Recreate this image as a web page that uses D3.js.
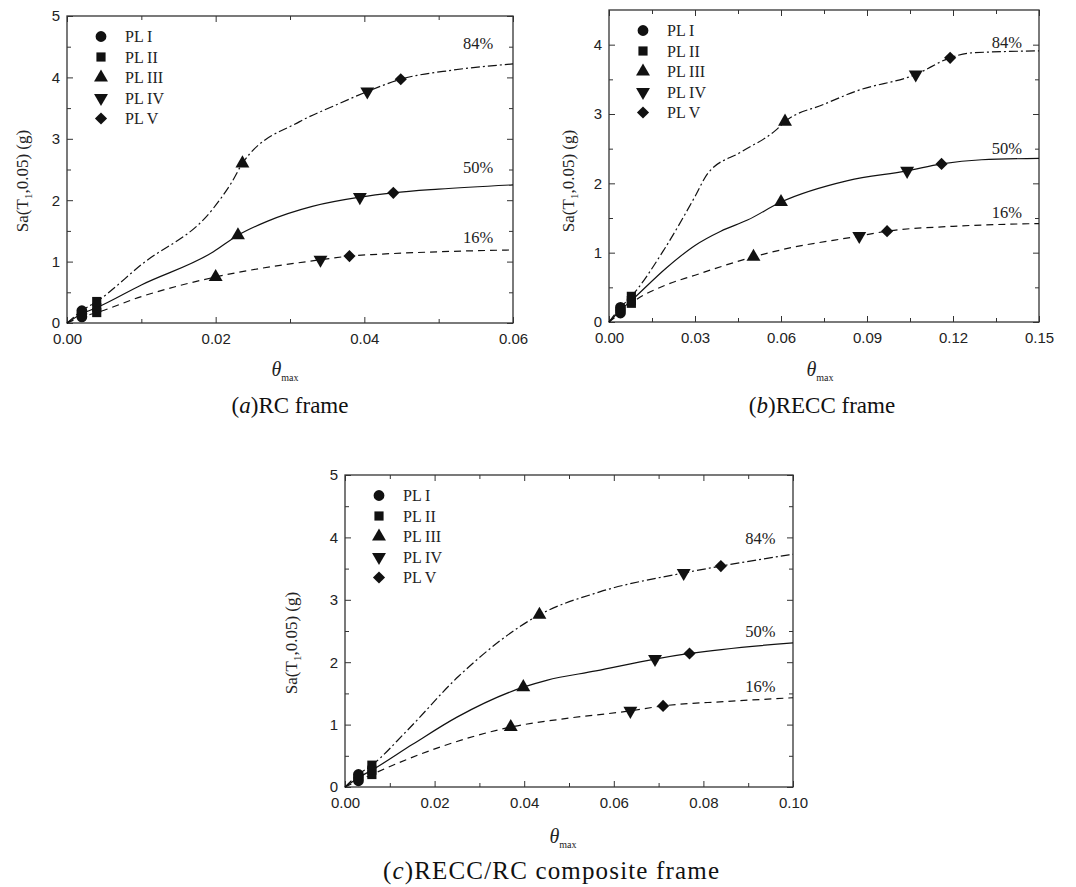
<!DOCTYPE html>
<html><head><meta charset="utf-8">
<script src="https://cdn.jsdelivr.net/npm/d3@7"></script>
<style>body{margin:0;background:#fff}</style>
</head><body><svg id="chart" width="1076" height="887"></svg>
<script>
// ---------- data ----------
const levels = ["PL I","PL II","PL III","PL IV","PL V"];
const pctNames = ["16%","50%","84%"];
const yTickLabels = ["0","1","2","3","4","5"];

// (a) RC frame
const rcXTicks = [0,0.02,0.04,0.06];
const rcXTickLabels = ["0.00","0.02","0.04","0.06"];
const rcPL16 = [[0.002,0.10],[0.004,0.17],[0.020,0.75],[0.0341,1.03],[0.038,1.09]];
const rcPL50 = [[0.002,0.15],[0.004,0.25],[0.023,1.43],[0.0394,2.05],[0.0439,2.12]];
const rcPL84 = [[0.002,0.20],[0.004,0.35],[0.0236,2.60],[0.0404,3.77],[0.0449,3.97]];
const rcCurve16 = [[0,0],[0.002,0.10],[0.004,0.17],[0.010,0.43],[0.020,0.75],[0.0341,1.03],[0.038,1.09],[0.042,1.12],[0.050,1.16],[0.060,1.19]];
const rcCurve50 = [[0,0],[0.002,0.15],[0.004,0.25],[0.010,0.62],[0.0197,1.16],[0.023,1.43],[0.027,1.66],[0.033,1.90],[0.0394,2.05],[0.0439,2.12],[0.050,2.18],[0.060,2.25]];
const rcCurve84 = [[0,0],[0.002,0.20],[0.004,0.35],[0.010,0.95],[0.0197,1.87],[0.0222,2.30],[0.0236,2.60],[0.0313,3.28],[0.0358,3.53],[0.0404,3.77],[0.0449,3.97],[0.052,4.12],[0.060,4.22]];

// (b) RECC frame
const reXTicks = [0,0.03,0.06,0.09,0.12,0.15];
const reXTickLabels = ["0.00","0.03","0.06","0.09","0.12","0.15"];
const rePL16 = [[0.004,0.13],[0.0078,0.27],[0.0504,0.94],[0.0873,1.24],[0.097,1.31]];
const rePL50 = [[0.004,0.17],[0.0078,0.31],[0.060,1.73],[0.104,2.18],[0.116,2.28]];
const rePL84 = [[0.004,0.21],[0.0078,0.37],[0.0614,2.89],[0.107,3.57],[0.119,3.81]];
const reCurve16 = [[0,0],[0.004,0.13],[0.0078,0.27],[0.019,0.52],[0.030,0.675],[0.0504,0.94],[0.060,1.04],[0.0873,1.24],[0.097,1.31],[0.120,1.38],[0.150,1.42]];
const reCurve50 = [[0,0],[0.004,0.17],[0.0078,0.31],[0.020,0.78],[0.030,1.105],[0.039,1.31],[0.0483,1.47],[0.060,1.73],[0.0833,2.04],[0.104,2.18],[0.116,2.28],[0.130,2.34],[0.150,2.36]];
const reCurve84 = [[0,0],[0.004,0.21],[0.0078,0.37],[0.0193,1.05],[0.030,1.81],[0.0344,2.14],[0.046,2.45],[0.058,2.76],[0.0614,2.89],[0.075,3.14],[0.0862,3.33],[0.107,3.57],[0.119,3.81],[0.126,3.88],[0.150,3.91]];

// (c) RECC/RC composite frame
const coXTicks = [0,0.02,0.04,0.06,0.08,0.10];
const coXTickLabels = ["0.00","0.02","0.04","0.06","0.08","0.10"];
const coPL16 = [[0.003,0.10],[0.006,0.20],[0.037,0.96],[0.0637,1.22],[0.071,1.30]];
const coPL50 = [[0.003,0.15],[0.006,0.27],[0.0398,1.60],[0.0692,2.05],[0.0769,2.14]];
const coPL84 = [[0.003,0.20],[0.006,0.35],[0.0434,2.76],[0.0756,3.43],[0.0839,3.54]];
const coCurve16 = [[0,0],[0.003,0.10],[0.006,0.20],[0.0212,0.64],[0.037,0.96],[0.0495,1.10],[0.0637,1.22],[0.071,1.30],[0.085,1.37],[0.100,1.43]];
const coCurve50 = [[0,0],[0.003,0.15],[0.006,0.27],[0.0150,0.68],[0.025,1.12],[0.0398,1.60],[0.045,1.71],[0.0560,1.86],[0.0692,2.05],[0.0769,2.14],[0.100,2.31]];
const coCurve84 = [[0,0],[0.003,0.20],[0.006,0.35],[0.0138,0.90],[0.0253,1.77],[0.0434,2.76],[0.057,3.13],[0.0756,3.43],[0.0839,3.54],[0.100,3.73]];

// ---------- layout ----------
const svg = d3.select("#chart");
const SERIF = "'Liberation Serif','Times New Roman',serif";
const SANS = "'Liberation Sans',Arial,sans-serif";
const dashes = ["7,5", null, "9,3,2,3"]; // 16%, 50%, 84%

const panels = [
  {box:{x0:67,x1:513,y0:16,y1:323}, xMax:0.06, yMax:5, xTicks:rcXTicks, xLabels:rcXTickLabels, xMinor:0.01,
   pls:[rcPL16,rcPL50,rcPL84], curves:[rcCurve16,rcCurve50,rcCurve84],
   pctPos:[[0.0553,1.40],[0.0553,2.54],[0.0553,4.55]],
   ylab:{x:22,y:181}, xlab:{x:285,y:370}, cap:{x:290,y:405,letter:"a",rest:")RC frame",size:23,w:null}},
  {box:{x0:609,x1:1039,y0:10,y1:322}, xMax:0.15, yMax:4.5, xTicks:reXTicks, xLabels:reXTickLabels, xMinor:0.015,
   pls:[rePL16,rePL50,rePL84], curves:[reCurve16,reCurve50,reCurve84],
   pctPos:[[0.1388,1.59],[0.1388,2.50],[0.1388,4.04]],
   ylab:{x:568,y:181}, xlab:{x:820,y:370}, cap:{x:822,y:405,letter:"b",rest:")RECC frame",size:23,w:null}},
  {box:{x0:345,x1:793,y0:475,y1:787}, xMax:0.10, yMax:5, xTicks:coXTicks, xLabels:coXTickLabels, xMinor:0.01,
   pls:[coPL16,coPL50,coPL84], curves:[coCurve16,coCurve50,coCurve84],
   pctPos:[[0.0927,1.62],[0.0927,2.50],[0.0927,3.98]],
   ylab:{x:291,y:643}, xlab:{x:563,y:837}, cap:{x:551,y:870,letter:"c",rest:")RECC/RC composite frame",size:25,w:336}}
];

function symbolFor(i){
  const g = [d3.symbolCircle, d3.symbolSquare, d3.symbolTriangle, d3.symbolTriangle, d3.symbolSquare][i];
  const s = [92, 84, 84, 84, 74][i];
  return d3.symbol().type(g).size(s)();
}
const rot = [0,0,0,180,45];

panels.forEach(p => {
  const b = p.box;
  const x = d3.scaleLinear().domain([0,p.xMax]).range([b.x0,b.x1]);
  const y = d3.scaleLinear().domain([0,p.yMax]).range([b.y1,b.y0]);
  const g = svg.append("g");

  const yMajor = d3.range(0, Math.floor(p.yMax)+0.001, 1);
  const yMinor = d3.range(0.5, p.yMax, 1);
  const xMinor = d3.range(p.xMinor, p.xMax, p.xMinor*2);

  const styleAxis = sel => {
    sel.select(".domain").remove();
    sel.selectAll("line").attr("stroke","#333").attr("stroke-width",1);
    sel.selectAll("text").attr("font-family",SANS).attr("font-size",15).attr("fill","#222");
  };
  g.append("g").attr("transform",`translate(0,${b.y1})`)
    .call(d3.axisBottom(x).tickValues(p.xTicks).tickFormat((d,i)=>p.xLabels[i]).tickSize(-6).tickPadding(10)).call(styleAxis);
  g.append("g").attr("transform",`translate(0,${b.y1})`)
    .call(d3.axisBottom(x).tickValues(xMinor).tickFormat("").tickSize(-4)).call(styleAxis);
  g.append("g").attr("transform",`translate(0,${b.y0})`)
    .call(d3.axisTop(x).tickValues(p.xTicks).tickFormat("").tickSize(-6)).call(styleAxis);
  g.append("g").attr("transform",`translate(0,${b.y0})`)
    .call(d3.axisTop(x).tickValues(xMinor).tickFormat("").tickSize(-4)).call(styleAxis);
  g.append("g").attr("transform",`translate(${b.x0},0)`)
    .call(d3.axisLeft(y).tickValues(yMajor).tickFormat((d,i)=>yTickLabels[i]).tickSize(-6).tickPadding(7)).call(styleAxis);
  g.append("g").attr("transform",`translate(${b.x0},0)`)
    .call(d3.axisLeft(y).tickValues(yMinor).tickFormat("").tickSize(-4)).call(styleAxis);
  g.append("g").attr("transform",`translate(${b.x1},0)`)
    .call(d3.axisRight(y).tickValues(yMajor).tickFormat("").tickSize(-6)).call(styleAxis);
  g.append("g").attr("transform",`translate(${b.x1},0)`)
    .call(d3.axisRight(y).tickValues(yMinor).tickFormat("").tickSize(-4)).call(styleAxis);

  g.append("rect").attr("x",b.x0).attr("y",b.y0).attr("width",b.x1-b.x0).attr("height",b.y1-b.y0)
    .attr("fill","none").attr("stroke","#333").attr("stroke-width",1.3);

  const line = d3.line().x(d=>x(d[0])).y(d=>y(d[1])).curve(d3.curveMonotoneX);
  p.curves.forEach((c,k) => {
    g.append("path").attr("d",line(c)).attr("fill","none").attr("stroke","#111")
      .attr("stroke-width",1.2).attr("stroke-dasharray",dashes[k]);
  });

  p.pls.forEach(arr => {
    arr.forEach((d,i) => {
      g.append("path").attr("d",symbolFor(i))
        .attr("transform",`translate(${x(d[0])},${y(d[1])}) rotate(${rot[i]})`)
        .attr("fill","#111");
    });
  });

  p.pctPos.forEach((d,k) => {
    g.append("text").attr("x",x(d[0])).attr("y",y(d[1])).attr("dy","0.35em")
      .attr("text-anchor","middle").attr("font-family",SERIF).attr("font-size",16.5).attr("fill","#222")
      .text(pctNames[k]);
  });

  levels.forEach((name,i) => {
    const ly = b.y0 + 20.5 + i*20.5;
    g.append("path").attr("d",symbolFor(i))
      .attr("transform",`translate(${b.x0+34},${ly}) rotate(${rot[i]})`).attr("fill","#111");
    g.append("text").attr("x",b.x0+58).attr("y",ly).attr("dy","0.35em")
      .attr("font-family",SERIF).attr("font-size",16).attr("fill","#222").text(name);
  });

  const yl = g.append("text").attr("transform",`translate(${p.ylab.x},${p.ylab.y}) rotate(-90)`)
    .attr("text-anchor","middle").attr("dy","0.35em").attr("font-family",SERIF).attr("font-size",17).attr("fill","#222");
  yl.append("tspan").text("Sa(T");
  yl.append("tspan").attr("font-size",11).attr("dy",4).text("1");
  yl.append("tspan").attr("dy",-4).text(",0.05) (g)");

  const xl = g.append("text").attr("x",p.xlab.x).attr("y",p.xlab.y).attr("dy","0.35em")
    .attr("text-anchor","middle").attr("font-family",SERIF).attr("fill","#222");
  xl.append("tspan").attr("font-style","italic").attr("font-size",20).text("θ");
  xl.append("tspan").attr("font-size",10).attr("dy",5).text("max");

  const cp = g.append("text").attr("x",p.cap.x).attr("y",p.cap.y).attr("dy","0.35em")
    .attr("text-anchor","middle").attr("font-family",SERIF).attr("font-size",p.cap.size).attr("fill","#111");
  if (p.cap.w) cp.attr("textLength",p.cap.w).attr("lengthAdjust","spacing");
  cp.append("tspan").text("(");
  cp.append("tspan").attr("font-style","italic").text(p.cap.letter);
  cp.append("tspan").text(p.cap.rest);
});
</script></body></html>
